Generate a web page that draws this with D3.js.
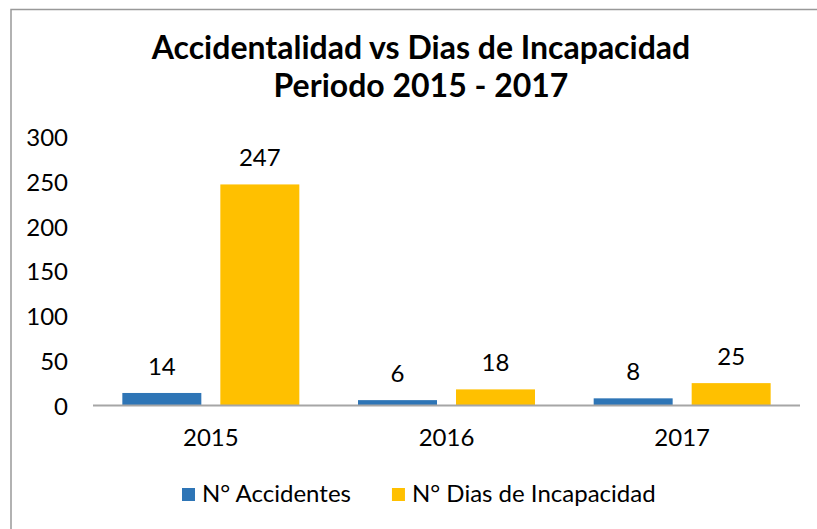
<!DOCTYPE html>
<html>
<head>
<meta charset="utf-8">
<script src="https://cdn.jsdelivr.net/npm/d3@7"></script>
<style>
  body { margin: 0; background: #fff; }
  text { font-family: Lato, "Open Sans", sans-serif; fill: #000; }
</style>
</head>
<body>
<svg id="chart" width="817" height="529"></svg>
<script>
// data
const years = ["2015", "2016", "2017"];
const seriesNames = ["N° Accidentes", "N° Dias de Incapacidad"];
const accidentes = [14, 6, 8];
const diasIncapacidad = [247, 18, 25];
const yTicks = [0, 50, 100, 150, 200, 250, 300];
const titleLines = ["Accidentalidad vs Dias de Incapacidad", "Periodo 2015 - 2017"];

const COLORS = ["#2E75B6", "#FFC000"];
const WIDTH = 817;
const HEIGHT = 529;
const PLOT = { left: 93, right: 800, top: 137, bottom: 405.5 };

const svg = d3.select("#chart");

// chart frame
svg.append("rect")
  .attr("x", 11).attr("y", 9.5)
  .attr("width", 840).attr("height", 560)
  .attr("fill", "#fff")
  .attr("stroke", "#999999")
  .attr("stroke-width", 1.5);

// title
const title = svg.append("text")
  .attr("text-anchor", "middle")
  .style("font-weight", "bold")
  .style("font-size", "32px");
title.selectAll("tspan")
  .data(titleLines)
  .enter()
  .append("tspan")
  .attr("x", 421)
  .attr("y", (d, i) => 59 + i * 37.5)
  .text(d => d);

const table = years.map((y, i) => ({ year: y, values: [accidentes[i], diasIncapacidad[i]] }));

const x0 = d3.scaleBand()
  .domain(years)
  .range([PLOT.left, PLOT.right])
  .paddingInner(0.249)
  .paddingOuter(0.1245);

const x1 = d3.scaleBand()
  .domain([0, 1])
  .range([0, x0.bandwidth()])
  .paddingInner(0.194);

const y = d3.scaleLinear()
  .domain([0, 300])
  .range([PLOT.bottom, PLOT.top]);

// y axis (labels only)
const yAxis = svg.append("g")
  .attr("transform", "translate(" + (PLOT.left - 25) + ",0)")
  .call(d3.axisLeft(y).tickValues(yTicks).tickSize(0).tickPadding(0));
yAxis.select(".domain").remove();
yAxis.selectAll("text")
  .style("font-size", "24px")
  .style("font-family", "Lato, sans-serif")
  .attr("dy", "0.36em");

// bars
const groups = svg.append("g").attr("class", "bars")
  .selectAll("g")
  .data(table)
  .enter()
  .append("g")
  .attr("transform", d => "translate(" + x0(d.year) + ",0)");

groups.selectAll("rect")
  .data(d => d.values.map((v, k) => ({ k: k, v: v })))
  .enter()
  .append("rect")
  .attr("x", d => x1(d.k))
  .attr("y", d => y(d.v))
  .attr("width", x1.bandwidth())
  .attr("height", d => y(0) - y(d.v))
  .attr("fill", d => COLORS[d.k]);

groups.selectAll("text.label")
  .data(d => d.values.map((v, k) => ({ k: k, v: v })))
  .enter()
  .append("text")
  .attr("class", "label")
  .attr("x", d => x1(d.k) + x1.bandwidth() / 2)
  .attr("y", d => y(d.v) - 18)
  .attr("text-anchor", "middle")
  .style("font-size", "24px")
  .text(d => d.v);

// x axis
const xAxis = svg.append("g")
  .attr("transform", "translate(0," + PLOT.bottom + ")")
  .call(d3.axisBottom(x0).tickSize(0).tickPadding(0).tickSizeOuter(0));
xAxis.select(".domain")
  .attr("stroke", "#a6a6a6")
  .attr("stroke-width", 2)
  .attr("d", "M" + PLOT.left + ",0H" + PLOT.right);
xAxis.selectAll("text")
  .style("font-size", "24px")
  .style("font-family", "Lato, sans-serif")
  .attr("dy", 0)
  .attr("y", 40);

// legend
const legend = svg.append("g").attr("class", "legend");
let lx = 182;
seriesNames.forEach((name, i) => {
  legend.append("rect")
    .attr("x", lx).attr("y", 488)
    .attr("width", 13).attr("height", 13)
    .attr("fill", COLORS[i]);
  const t = legend.append("text")
    .attr("x", lx + 20)
    .attr("y", 502)
    .style("font-size", "24px")
    .text(name);
  lx += 20 + t.node().getComputedTextLength() + 41;
});
</script>
</body>
</html>
